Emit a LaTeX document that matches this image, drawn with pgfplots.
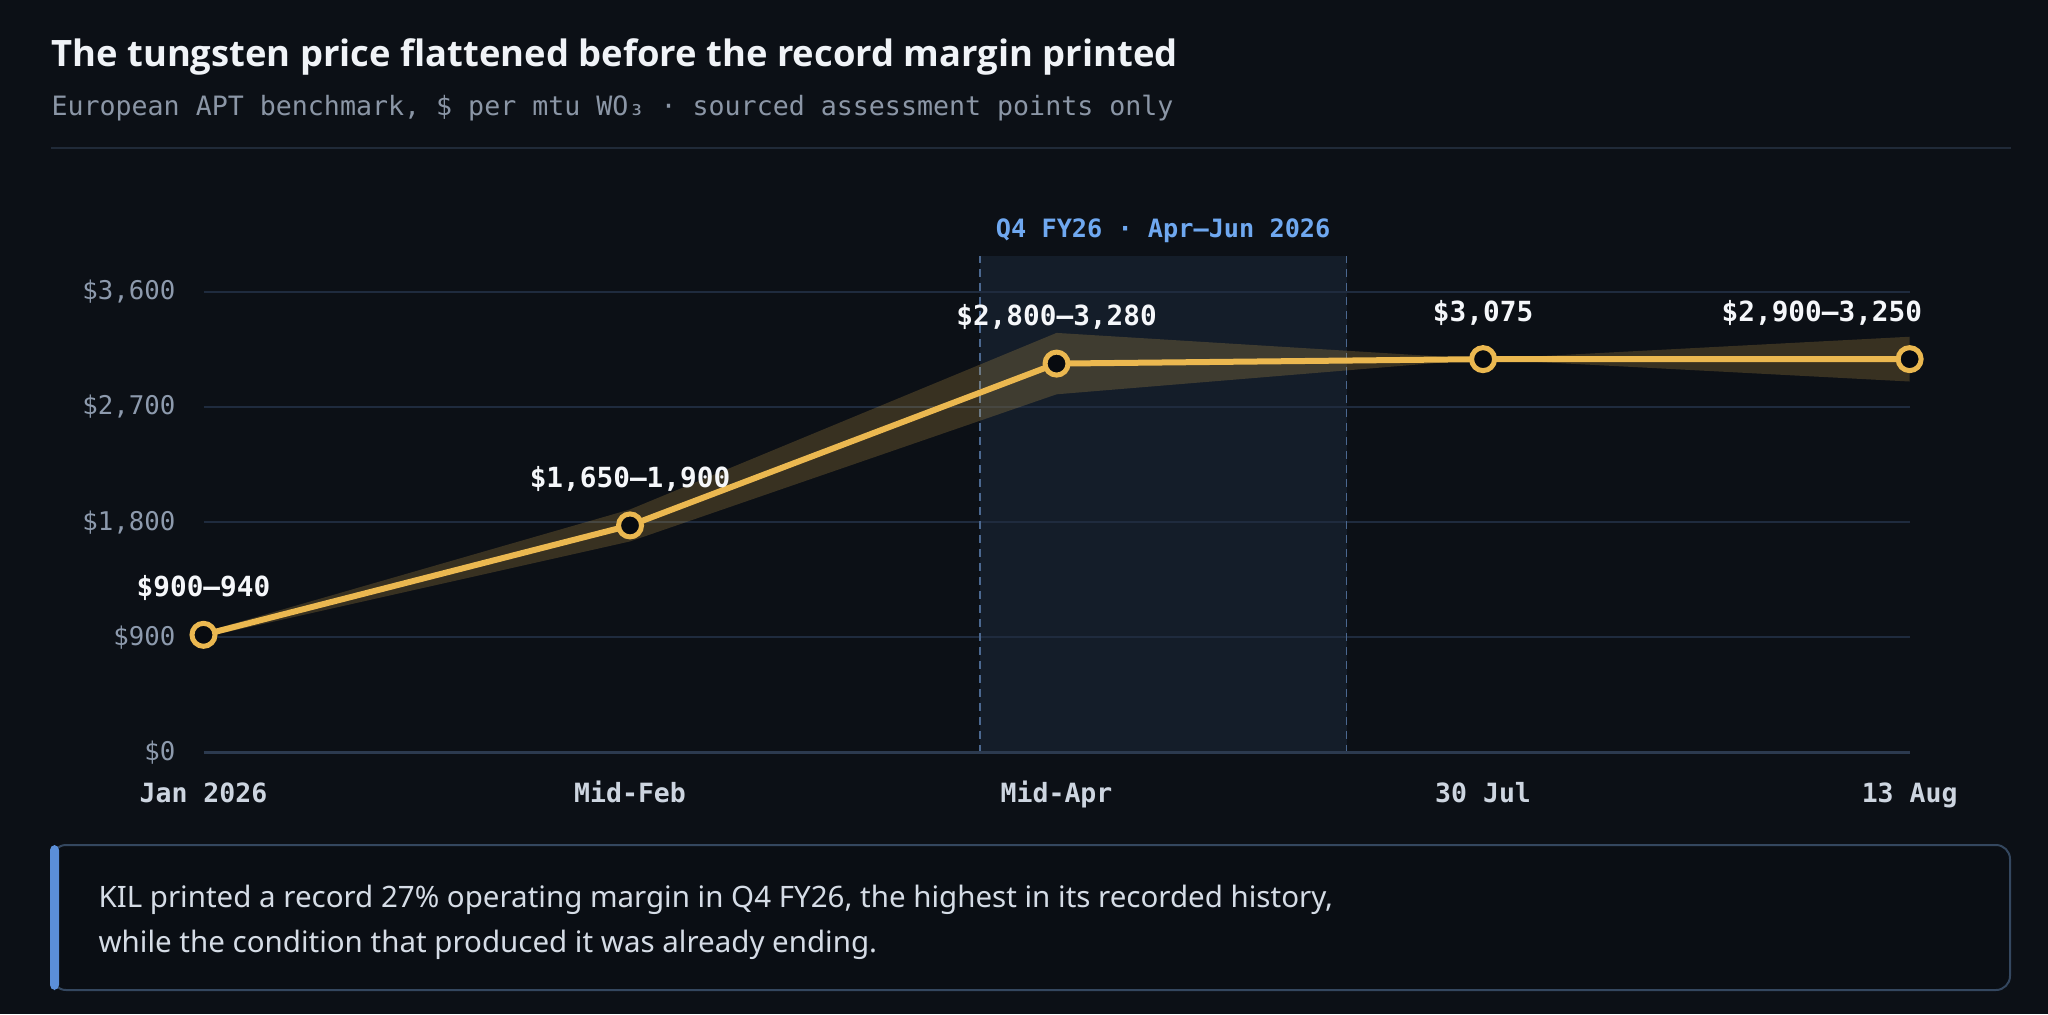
\documentclass[border=0pt]{standalone}
\usepackage{pgfplots}
\pgfplotsset{compat=1.18}
\usepackage{fontspec}
\setmainfont{Noto Sans}
\newfontfamily\titlefont{Open Sans}
\newfontfamily\mono{DejaVu Sans Mono}
\definecolor{bg}{HTML}{0C1016}
\definecolor{titlec}{HTML}{F0F3F7}
\definecolor{subc}{HTML}{8B96A6}
\definecolor{sepc}{HTML}{202A38}
\definecolor{gridc}{HTML}{1F2B3E}
\definecolor{basec}{HTML}{2C3A4F}
\definecolor{ytc}{HTML}{8D9AAD}
\definecolor{xtc}{HTML}{CDD5E0}
\definecolor{shadec}{HTML}{141D29}
\definecolor{dashc}{HTML}{4B6890}
\definecolor{q4c}{HTML}{6FA8F0}
\definecolor{gold}{HTML}{EBB850}
\definecolor{markfill}{HTML}{080B10}
\definecolor{labc}{HTML}{F5F7FA}
\definecolor{boxborder}{HTML}{34475F}
\definecolor{boxfill}{HTML}{0A0E14}
\definecolor{accent}{HTML}{5B8FD9}
\definecolor{annc}{HTML}{D5DCE6}
\begin{document}
\begin{tikzpicture}
\begin{scope}[x=0.4pt,y=-0.4pt]
\fill[bg] (0,0) rectangle (2048,1014);
\useasboundingbox (0,0) rectangle (2048,1014);
\fill[shadec] (979.8,255.5) rectangle (1346.6,752.5);
\node[anchor=base west, inner sep=0, font=\titlefont\bfseries\fontsize{14.55}{16}\selectfont, text=titlec] at (51,66.7) {The tungsten price flattened before the record margin printed};
\node[anchor=base west, inner sep=0, font=\mono\fontsize{10.65}{12}\selectfont, text=subc] at (51,115) {European APT benchmark, \$ per mtu WO₃ · sourced assessment points only};
\draw[sepc, line width=0.8pt] (51,147.6) -- (2011,147.6);
\draw[boxborder, fill=boxfill, line width=0.8pt, rounded corners=5.6pt] (52,845) rectangle (2010,990);
\fill[accent, rounded corners=2pt] (50,845) rectangle (59,990);
\node[anchor=base west, inner sep=0, font=\fontsize{11.8}{13}\selectfont, text=annc] at (98,907.3) {KIL printed a record 27\% operating margin in Q4 FY26, the highest in its recorded history,};
\node[anchor=base west, inner sep=0, font=\fontsize{11.8}{13}\selectfont, text=annc] at (98,952.7) {while the condition that produced it was already ending.};
\end{scope}
\begin{axis}[
  at={(81.4pt,-301pt)}, anchor=south west,
  scale only axis, width=682.44pt, height=198.8pt,
  xmin=0, xmax=4, ymin=0, ymax=3885,
  axis line style={draw=none}, tick style={draw=none}, major tick length=0pt,
  xtick={0,1,2,3,4},
  xticklabels={Jan 2026, Mid-Feb, Mid-Apr, 30 Jul, 13 Aug},
  ytick={0,900,1800,2700,3600},
  yticklabels={{\$0},{\$900},{\$1,800},{\$2,700},{\$3,600}},
  ymajorgrids, major grid style={gridc, line width=0.8pt},
  yticklabel style={anchor=east, inner sep=0pt, xshift=-11pt, font=\mono\fontsize{10.3}{12}\selectfont, text=ytc},
  xticklabel style={anchor=base, inner sep=0pt, yshift=-20pt, font=\mono\bfseries\fontsize{10.6}{12}\selectfont, text=xtc},
  clip=false,
]
\draw[dashc, line width=0.6pt, dash pattern=on 3.2pt off 2.4pt] (axis cs:1.82,0) -- (axis cs:1.82,3885);
\draw[dashc, line width=0.6pt, dash pattern=on 3.2pt off 2.4pt] (axis cs:2.68,0) -- (axis cs:2.68,3885);
\draw[basec, line width=1.2pt] (axis cs:0,0) -- (axis cs:4,0);
\node[anchor=base, inner sep=0pt, font=\mono\bfseries\fontsize{10.1}{12}\selectfont, text=q4c] at (axis cs:2.25,4022) {Q4 FY26 · Apr–Jun 2026};
\addplot[draw=none, fill=gold, fill opacity=0.2] coordinates {(0,900)(1,1650)(2,2800)(3,3075)(4,2900)(4,3250)(3,3075)(2,3280)(1,1900)(0,940)} -- cycle;
\addplot[gold, line width=2.4pt, mark=*, mark size=4.6pt, mark options={fill=markfill, draw=gold, line width=2pt}] coordinates {(0,920)(1,1775)(2,3040)(3,3075)(4,3075)};
\begin{scope}[every node/.style={inner sep=0pt, font=\mono\bfseries\fontsize{11.1}{13}\selectfont, text=labc}]
\node[anchor=base, yshift=15.2pt] at (axis cs:0,920) {\$900–940};
\node[anchor=base, yshift=15.2pt] at (axis cs:1,1775) {\$1,650–1,900};
\node[anchor=base, yshift=15.2pt] at (axis cs:2,3040) {\$2,800–3,280};
\node[anchor=base, yshift=15.2pt] at (axis cs:3,3075) {\$3,075};
\node[anchor=base east, yshift=15.2pt, xshift=5.2pt] at (axis cs:4,3075) {\$2,900–3,250};
\end{scope}
\end{axis}
\end{tikzpicture}
\end{document}
